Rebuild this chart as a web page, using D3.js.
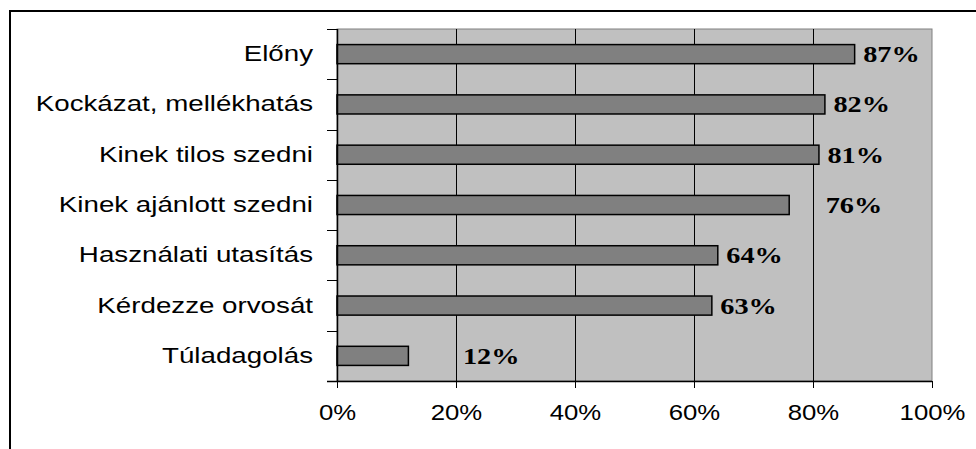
<!DOCTYPE html>
<html>
<head>
<meta charset="utf-8">
<script src="https://cdn.jsdelivr.net/npm/d3@7"></script>
<style>
  html, body { margin: 0; padding: 0; background: #fff; }
  svg { display: block; }
</style>
</head>
<body>
<script>
// Categories (top to bottom) and their shares in percent
const categories = [
  "Előny",
  "Kockázat, mellékhatás",
  "Kinek tilos szedni",
  "Kinek ajánlott szedni",
  "Használati utasítás",
  "Kérdezze orvosát",
  "Túladagolás"
];
const values = [87, 82, 81, 76, 64, 63, 12];
const xTicks = [0, 20, 40, 60, 80, 100];

// Extra horizontal nudge (px) for value labels placed away from their bar end
const labelNudge = [0, 0, 0, 28, 0, 0, 46];

const W = 976, H = 449;
const plot = { left: 337, right: 932, top: 29, bottom: 381 };
const catStretch = 1.26;   // horizontal stretch of category lettering
const tickStretch = 1.17;  // horizontal stretch of tick lettering
const valStretch = 1.23;   // horizontal stretch of value lettering

const svg = d3.select("body").append("svg")
  .attr("width", W).attr("height", H);

// Outer chart frame (continues beyond the right and bottom edges)
svg.append("rect")
  .attr("x", 10).attr("y", 11)
  .attr("width", W + 20).attr("height", H + 20)
  .attr("fill", "#fff").attr("stroke", "#000").attr("stroke-width", 2);

const x = d3.scaleLinear().domain([0, 100]).range([plot.left, plot.right]);
const y = d3.scaleBand().domain(categories)
  .range([plot.top, plot.bottom])
  .paddingInner(0.62).paddingOuter(0.31);

// Plot area
svg.append("rect")
  .attr("x", plot.left).attr("y", plot.top)
  .attr("width", plot.right - plot.left).attr("height", plot.bottom - plot.top)
  .attr("fill", "#c0c0c0").attr("stroke", "#808080").attr("stroke-width", 1);

// Vertical gridlines
svg.append("g").selectAll("line")
  .data(xTicks.filter(t => t > 0 && t < 100))
  .join("line")
  .attr("x1", d => Math.round(x(d)) + 0.5).attr("x2", d => Math.round(x(d)) + 0.5)
  .attr("y1", plot.top).attr("y2", plot.bottom)
  .attr("stroke", "#000").attr("stroke-width", 1);

// Bars
svg.append("g").selectAll("rect")
  .data(values)
  .join("rect")
  .attr("x", x(0))
  .attr("y", (d, i) => y(categories[i]))
  .attr("width", d => x(d) - x(0))
  .attr("height", y.bandwidth())
  .attr("fill", "#808080")
  .attr("stroke", "#000").attr("stroke-width", 1.5);

// Bottom axis
const xAxis = d3.axisBottom(x)
  .tickValues(xTicks)
  .tickFormat(d => d + "%")
  .tickSize(7)
  .tickPadding(16);
const gx = svg.append("g")
  .attr("transform", `translate(0,${plot.bottom})`)
  .call(xAxis);
gx.select(".domain").attr("stroke", "#000").attr("stroke-width", 1.5)
  .attr("d", `M${plot.left - 10},0.5H${plot.right}`);
gx.selectAll(".tick line").attr("stroke", "#000");
gx.selectAll(".tick text")
  .attr("font-family", "Liberation Sans, Arial, sans-serif")
  .attr("font-size", 22)
  .attr("fill", "#000")
  .attr("transform", `scale(${tickStretch},1)`);

// Left axis line with ticks on category boundaries
const gy = svg.append("g");
gy.append("line")
  .attr("x1", plot.left + 0.5).attr("x2", plot.left + 0.5)
  .attr("y1", plot.top).attr("y2", plot.bottom)
  .attr("stroke", "#000").attr("stroke-width", 1.5);
const step = y.step();
const bounds = d3.range(categories.length).map(i => y(categories[i]) - step * y.paddingInner() / 2);
gy.selectAll("line.tick")
  .data(bounds)
  .join("line")
  .attr("class", "tick")
  .attr("x1", plot.left - 10).attr("x2", plot.left)
  .attr("y1", d => Math.round(d) + 0.5).attr("y2", d => Math.round(d) + 0.5)
  .attr("stroke", "#000").attr("stroke-width", 1);

// Category labels
svg.append("g").selectAll("text")
  .data(categories)
  .join("text")
  .attr("transform", d => `translate(313,${y(d) + y.bandwidth() / 2 + 7}) scale(${catStretch},1)`)
  .attr("text-anchor", "end")
  .attr("font-family", "Liberation Sans, Arial, sans-serif")
  .attr("font-size", 22)
  .attr("fill", "#000")
  .text(d => d);

// Value labels
svg.append("g").selectAll("text")
  .data(values)
  .join("text")
  .attr("transform", (d, i) =>
    `translate(${x(d) + 8.5 + labelNudge[i]},${y(categories[i]) + y.bandwidth() / 2 + 8}) scale(${valStretch},1)`)
  .attr("font-family", "Liberation Serif, Times New Roman, serif")
  .attr("font-weight", "bold")
  .attr("font-size", 23)
  .attr("fill", "#000")
  .text(d => d + "%");
</script>
</body>
</html>
